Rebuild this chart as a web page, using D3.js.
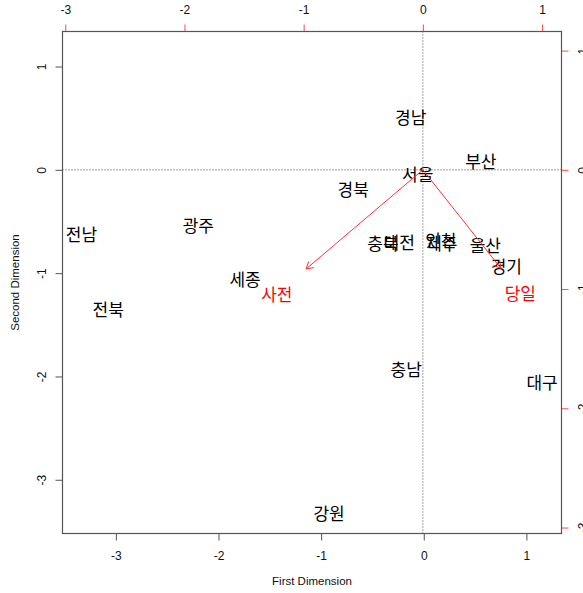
<!DOCTYPE html>
<html>
<head>
<meta charset="utf-8">
<script src="https://cdn.jsdelivr.net/npm/d3@7"></script>
<style>
  html, body { margin: 0; padding: 0; background: #fff; }
  svg { display: block; }
</style>
</head>
<body>
<svg id="chart" width="583" height="593"></svg>
<script>
// Region scores on the first two dimensions
const regions = ["경남", "부산", "서울", "경북", "광주", "전남", "충북", "대전", "인천", "제주",
                 "울산", "경기", "세종", "전북", "충남", "대구", "강원"];
const dim1 = [-0.127, 0.556, -0.059, -0.688, -2.197, -3.335, -0.398, -0.239, 0.166, 0.176,
              0.600, 0.805, -1.741, -3.075, -0.171, 1.153, -0.922];
const dim2 = [0.518, 0.087, -0.039, -0.179, -0.533, -0.615, -0.707, -0.692, -0.678, -0.708,
              -0.726, -0.930, -1.056, -1.339, -1.927, -2.050, -3.320];

// Variable loadings (drawn against the top / right axes)
const variables = ["사전", "당일"];
const load1 = [-1.225, 0.818];
const load2 = [-1.040, -1.032];

// Tick labels
const ticksPrimary = [-3, -2, -1, 0, 1];
const ticksSecondary = [-3, -2, -1, 0, 1];

const box = { left: 62.5, right: 561.5, top: 31.5, bottom: 533.5 };
const axisFont = "'Liberation Sans', Arial, sans-serif";
const labelFont = "'Noto Sans CJK KR', sans-serif";
const fmt = d => String(d);   // plain hyphen-minus

const svg = d3.select("#chart");

const x = d3.scaleLinear().domain([-3.52, 1.342]).range([box.left, box.right]);
const y = d3.scaleLinear().domain([-3.52, 1.339]).range([box.bottom, box.top]);
const x2 = d3.scaleLinear().domain([-3.023, 1.163]).range([box.left, box.right]);
const y2 = d3.scaleLinear().domain([-3.05, 1.160]).range([box.bottom, box.top]);

function styleAxis(g, tickColor) {
  g.select(".domain").remove();
  g.selectAll(".tick line").attr("stroke", tickColor).attr("stroke-width", 1);
  g.selectAll(".tick text")
    .attr("fill", "#111")
    .style("font-family", axisFont)
    .style("font-size", "12px");
}

// bottom axis
svg.append("g")
  .attr("transform", `translate(0,${box.bottom})`)
  .call(d3.axisBottom(x).tickValues(ticksPrimary).tickSize(7).tickPadding(11).tickFormat(fmt))
  .call(g => styleAxis(g, "#555"));

// left axis, labels rotated
svg.append("g")
  .attr("transform", `translate(${box.left},0)`)
  .call(d3.axisLeft(y).tickValues(ticksPrimary).tickSize(7).tickFormat(fmt))
  .call(g => styleAxis(g, "#555"))
  .call(g => g.selectAll(".tick text")
    .attr("x", 0).attr("dy", "0.35em")
    .attr("text-anchor", "middle")
    .attr("transform", "translate(-21,0) rotate(-90)"));

// top axis (loadings scale)
svg.append("g")
  .attr("transform", `translate(0,${box.top})`)
  .call(d3.axisTop(x2).tickValues(ticksSecondary).tickSize(7).tickPadding(11).tickFormat(fmt))
  .call(g => styleAxis(g, "#ff4a4a"));

// right axis (loadings scale), labels rotated
svg.append("g")
  .attr("transform", `translate(${box.right},0)`)
  .call(d3.axisRight(y2).tickValues(ticksSecondary).tickSize(7).tickFormat(fmt))
  .call(g => styleAxis(g, "#ff4a4a"))
  .call(g => g.selectAll(".tick text")
    .attr("x", 0).attr("dy", "0.35em")
    .attr("text-anchor", "middle")
    .attr("transform", "translate(21,0) rotate(-90)"));

// reference lines through the origin
svg.append("line")
  .attr("x1", box.left).attr("x2", box.right)
  .attr("y1", y2(0)).attr("y2", y2(0))
  .attr("stroke", "#444").attr("stroke-width", 1).attr("stroke-dasharray", "1,2");
svg.append("line")
  .attr("x1", x2(0)).attr("x2", x2(0))
  .attr("y1", box.top).attr("y2", box.bottom)
  .attr("stroke", "#444").attr("stroke-width", 1).attr("stroke-dasharray", "1,2");

// plot frame
svg.append("rect")
  .attr("x", box.left).attr("y", box.top)
  .attr("width", box.right - box.left).attr("height", box.bottom - box.top)
  .attr("fill", "none").attr("stroke", "#555").attr("stroke-width", 1.2);

// region labels
svg.append("g").selectAll("text")
  .data(regions)
  .join("text")
  .attr("x", (d, i) => x(dim1[i]))
  .attr("y", (d, i) => y(dim2[i]))
  .attr("text-anchor", "middle")
  .attr("dominant-baseline", "central")
  .attr("fill", "#000")
  .style("font-family", labelFont)
  .style("font-size", "17px")
  .text(d => d);

// variable labels
svg.append("g").selectAll("text")
  .data(variables)
  .join("text")
  .attr("x", (d, i) => x2(load1[i]))
  .attr("y", (d, i) => y2(load2[i]))
  .attr("text-anchor", "middle")
  .attr("dominant-baseline", "central")
  .attr("fill", "#ff0000")
  .style("font-family", labelFont)
  .style("font-size", "17px")
  .text(d => d);

// arrows from the origin to 80% of each loading
const headLen = 8, headAng = Math.PI / 6;
const arrows = svg.append("g").attr("stroke", "#ff3030").attr("stroke-width", 1).attr("fill", "none");
variables.forEach((v, i) => {
  const x0 = x2(0), y0 = y2(0);
  const x1 = x2(load1[i] * 0.8), y1 = y2(load2[i] * 0.8);
  const a = Math.atan2(y1 - y0, x1 - x0);
  arrows.append("line").attr("x1", x0).attr("y1", y0).attr("x2", x1).attr("y2", y1);
  arrows.append("path").attr("d",
    `M${x1 - headLen * Math.cos(a - headAng)},${y1 - headLen * Math.sin(a - headAng)}` +
    `L${x1},${y1}` +
    `L${x1 - headLen * Math.cos(a + headAng)},${y1 - headLen * Math.sin(a + headAng)}`);
});

// axis titles
svg.append("text")
  .attr("x", (box.left + box.right) / 2).attr("y", 581)
  .attr("text-anchor", "middle").attr("dominant-baseline", "central")
  .attr("fill", "#111")
  .style("font-family", axisFont).style("font-size", "11.5px")
  .text("First Dimension");
svg.append("text")
  .attr("transform", `translate(14.5,${(box.top + box.bottom) / 2}) rotate(-90)`)
  .attr("text-anchor", "middle").attr("dominant-baseline", "central")
  .attr("fill", "#111")
  .style("font-family", axisFont).style("font-size", "11.5px")
  .text("Second Dimension");
</script>
</body>
</html>
